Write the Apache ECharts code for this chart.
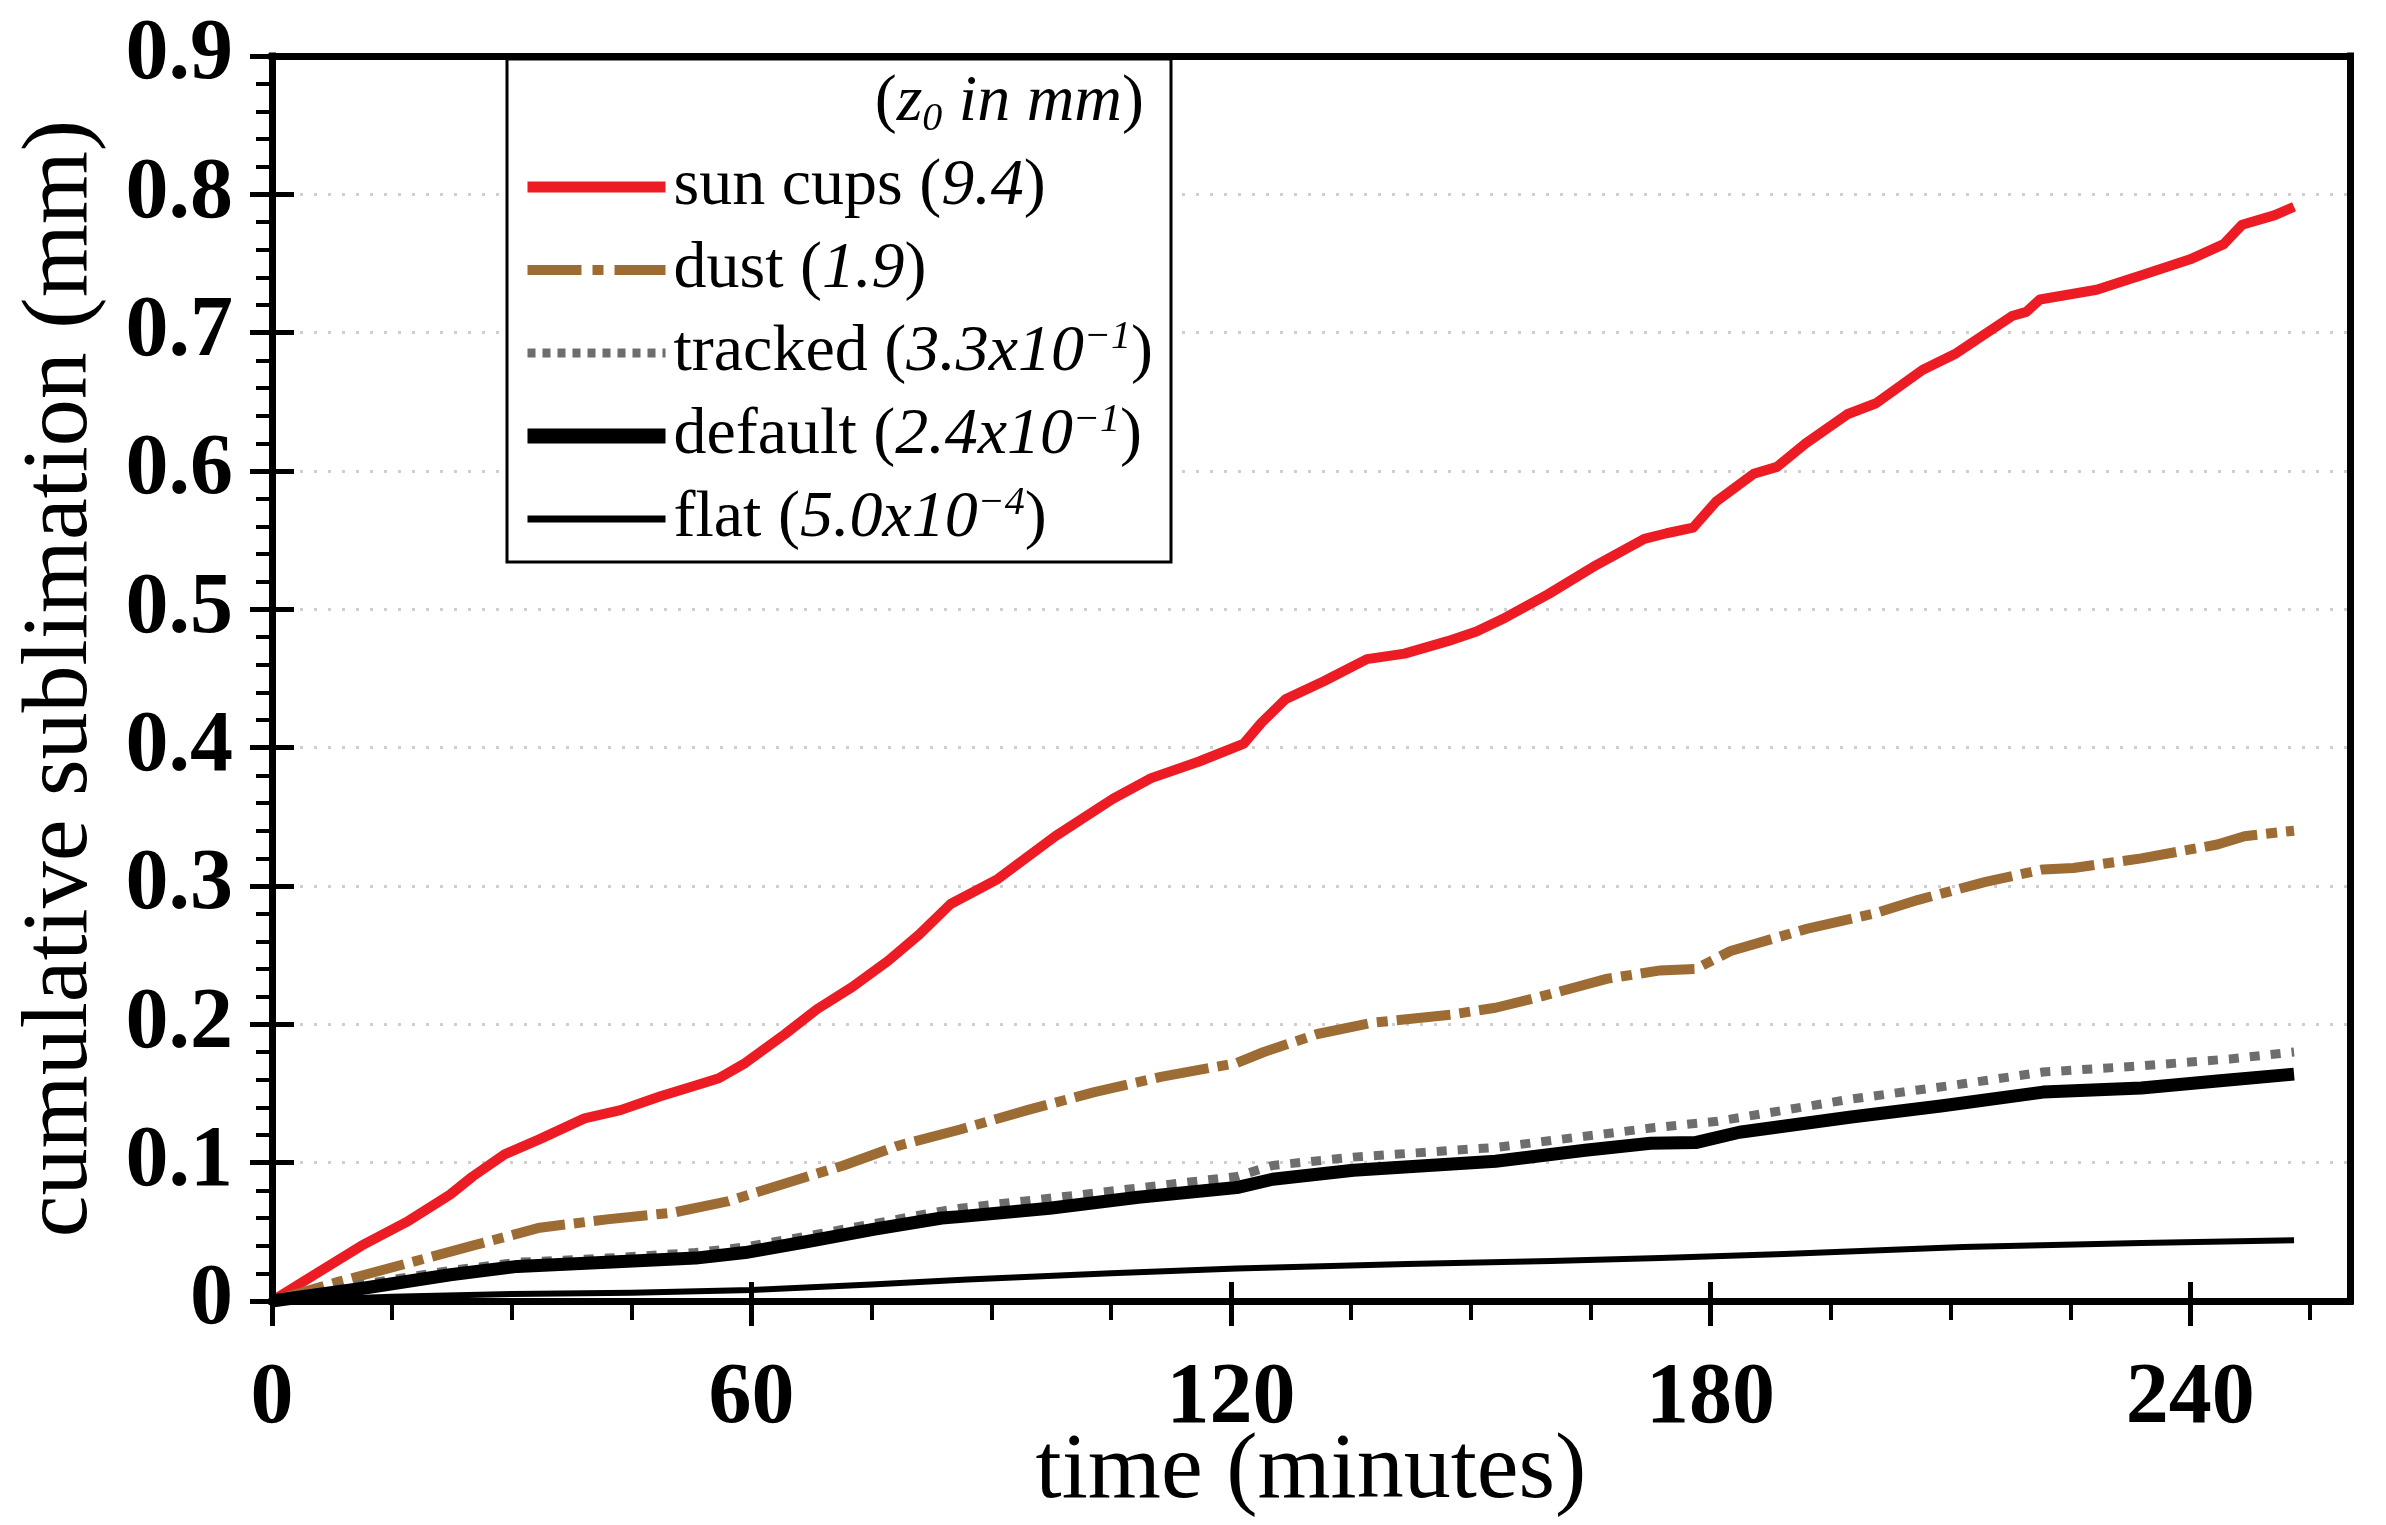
<!DOCTYPE html>
<html><head><meta charset="utf-8">
<script src="https://cdn.jsdelivr.net/npm/echarts@6/dist/echarts.min.js"></script>
<style>html,body{margin:0;padding:0;background:#fff}#c{width:2386px;height:1525px}</style>
</head><body><div id="c"></div>
<script>
// ---- data ----
const seriesNames = ['sun cups', 'dust', 'tracked', 'default', 'flat'];
const z0Values = ['9.4', '1.9', '3.3x10', '2.4x10', '5.0x10'];
const z0Exponents = ['', '', '\u22121', '\u22121', '\u22124'];
const xTickValues = [0, 60, 120, 180, 240];
const xMinorTickValues = [15, 30, 45, 75, 90, 105, 135, 150, 165, 195, 210, 225, 255];

const sunCups = [[0,0],[5.6,0.020],[11.2,0.040],[16.8,0.057],[22.3,0.077],[25.1,0.090],[29.1,0.106],[33.5,0.117],[39.1,0.132],[43.6,0.138],[48.6,0.148],[53.1,0.156],[55.9,0.161],[59.2,0.172],[64.2,0.193],[68.2,0.211],[72.6,0.227],[77.1,0.246],[81,0.265],[84.9,0.287],[90.8,0.305],[98,0.336],[105.2,0.363],[110,0.378],[116,0.390],[121.6,0.403],[123.8,0.418],[126.8,0.435],[131.6,0.448],[137,0.464],[141.7,0.468],[147.1,0.477],[150.7,0.484],[154.3,0.494],[159.7,0.511],[165.7,0.532],[171.7,0.551],[174.5,0.555],[177.8,0.559],[180.7,0.578],[185.4,0.598],[188.3,0.603],[191.9,0.620],[197.1,0.641],[200.7,0.649],[206.5,0.673],[210.7,0.685],[217.7,0.712],[219.5,0.715],[221.2,0.724],[228.3,0.731],[234.2,0.742],[240,0.753],[244.2,0.764],[246.5,0.778],[250.6,0.785],[253,0.791]];
const dust = [[0,0],[8.4,0.014],[16.8,0.027],[25.1,0.040],[33.5,0.053],[41.9,0.059],[50.3,0.064],[57,0.072],[64.2,0.085],[71.5,0.098],[78.2,0.112],[86.1,0.124],[94.5,0.138],[102.9,0.151],[111.2,0.162],[120.7,0.172],[124.1,0.180],[130.8,0.193],[137.5,0.201],[147.5,0.207],[153.1,0.212],[158.7,0.220],[167.1,0.233],[173.7,0.239],[178.1,0.240],[182.5,0.253],[192,0.269],[200.4,0.280],[206,0.290],[214.4,0.303],[221.6,0.312],[225.4,0.313],[233.9,0.320],[243.4,0.330],[246.8,0.336],[253,0.340]];
const tracked = [[0,0],[11.2,0.012],[22.3,0.022],[30.7,0.028],[41.9,0.031],[53,0.035],[59.2,0.039],[67,0.047],[75.4,0.056],[83.8,0.065],[86.1,0.067],[102.9,0.078],[120.7,0.090],[125.2,0.098],[135.3,0.104],[153.1,0.111],[172.5,0.125],[180.9,0.130],[197.6,0.146],[211.6,0.157],[221.6,0.1655],[233.9,0.170],[245,0.175],[253,0.180]];
const defaultZ0 = [[0,0],[11.2,0.009],[22.3,0.019],[30.7,0.025],[41.9,0.028],[53,0.031],[59.2,0.035],[67,0.043],[75.4,0.052],[83.8,0.060],[86.1,0.061],[97.3,0.067],[108.4,0.075],[120.7,0.082],[125.2,0.088],[135.3,0.0945],[153.1,0.101],[164.3,0.109],[172.5,0.114],[178.1,0.1145],[183.6,0.122],[197.6,0.133],[208.8,0.141],[221.6,0.151],[233.9,0.154],[243.4,0.159],[253,0.164]];
const flat = [[0,0],[15,0.003],[30,0.005],[45,0.006],[60,0.008],[75,0.012],[87,0.0155],[105,0.020],[120.7,0.0235],[142,0.0268],[160,0.029],[173.7,0.031],[189.2,0.034],[211.6,0.039],[233.9,0.042],[253,0.044]];

// ---- styles ----
const SERIF = 'Liberation Serif';
const seriesData = [sunCups, dust, tracked, defaultZ0, flat];
const seriesStyles = [
  {color:'#ed1c24', width:10, type:'solid'},
  {color:'#9d6b34', width:10, type:[54,9,11,9]},
  {color:'#6d6d6d', width:9, type:[10,11]},
  {color:'#000000', width:13, type:'solid'},
  {color:'#000000', width:6, type:'solid'}
];
const legendStyles = [
  {width:11},
  {width:10, type:[54,11,11,11]},
  {width:9, type:[8,7]},
  {width:15},
  {width:7}
];

const chart = echarts.init(document.getElementById('c'), null, {renderer:'canvas'});

const series = seriesNames.map((name, i) => ({
  name: name,
  type: 'line',
  xAxisIndex: 0,
  yAxisIndex: 0,
  data: seriesData[i],
  symbol: 'none',
  showSymbol: false,
  smooth: false,
  z: 3,
  itemStyle: {color: seriesStyles[i].color},
  lineStyle: {color: seriesStyles[i].color, width: seriesStyles[i].width, type: seriesStyles[i].type, cap: 'butt', join: 'round'}
}));

function frameLine() {
  return {show: true, onZero: false, lineStyle: {color: '#000', width: 7, cap: 'square'}};
}
const noLine = {show: false, onZero: false};

const option = {
  animation: false,
  backgroundColor: '#ffffff',
  grid: {left: 272, right: 36, top: 56, bottom: 224, show: false, containLabel: false, outerBoundsMode: 'none'},
  xAxis: [
    {
      type: 'value', position: 'bottom', min: 0, max: 260, z: 4,
      axisLine: frameLine(),
      axisTick: {show: true, inside: false, length: 25, customValues: xTickValues, lineStyle: {color: '#000', width: 5}},
      axisLabel: {show: true, customValues: xTickValues, margin: 56, color: '#000', fontFamily: SERIF, fontWeight: 'bold', fontSize: 86},
      splitLine: {show: false},
      name: 'time (minutes)', nameLocation: 'middle', nameGap: 124, nameMoveOverlap: false,
      nameTextStyle: {color: '#000', fontFamily: SERIF, fontSize: 94}
    },
    {
      type: 'value', position: 'bottom', min: 0, max: 260, z: 4,
      axisLine: noLine,
      axisTick: {show: true, inside: true, length: 19, customValues: xTickValues, lineStyle: {color: '#000', width: 5}},
      axisLabel: {show: false}, splitLine: {show: false}
    },
    {
      type: 'value', position: 'bottom', min: 0, max: 260, z: 4,
      axisLine: noLine,
      axisTick: {show: true, inside: false, length: 19, customValues: xMinorTickValues, lineStyle: {color: '#000', width: 4}},
      axisLabel: {show: false}, splitLine: {show: false}
    },
    {
      type: 'value', position: 'top', min: 0, max: 260, z: 4,
      axisLine: frameLine(),
      axisTick: {show: false}, axisLabel: {show: false}, splitLine: {show: false}
    }
  ],
  yAxis: [
    {
      type: 'value', position: 'left', min: 0, max: 0.9, interval: 0.1, z: 4,
      axisLine: frameLine(),
      axisTick: {show: true, inside: false, length: 22, lineStyle: {color: '#000', width: 5}},
      minorTick: {show: true, splitNumber: 5, length: 16, lineStyle: {color: '#000', width: 4}},
      axisLabel: {show: true, margin: 39, color: '#000', fontFamily: SERIF, fontWeight: 'bold', fontSize: 86,
        formatter: v => (Math.abs(v) < 1e-9 ? '0' : v.toFixed(1))},
      splitLine: {show: false},
      name: 'cumulative sublimation (mm)', nameLocation: 'middle', nameGap: 164, nameRotate: 90, nameMoveOverlap: false,
      nameTextStyle: {color: '#000', fontFamily: SERIF, fontSize: 94}
    },
    {
      type: 'value', position: 'left', min: 0, max: 0.9, interval: 0.1, z: 4,
      axisLine: noLine,
      axisTick: {show: true, inside: true, length: 22, lineStyle: {color: '#000', width: 5}},
      axisLabel: {show: false}, splitLine: {show: false}
    },
    {
      type: 'value', position: 'right', min: 0, max: 0.9, interval: 0.1, z: 4,
      axisLine: frameLine(),
      axisTick: {show: false}, axisLabel: {show: false}, splitLine: {show: false}
    },
    {
      // dotted horizontal grid lines, drawn beneath everything
      type: 'value', position: 'left', min: 0, max: 0.9, interval: 0.1, z: 0,
      axisLine: noLine, axisTick: {show: false}, axisLabel: {show: false},
      splitLine: {show: true, lineStyle: {color: '#cfcfcf', width: 3, type: [3, 11]}}
    }
  ],
  legend: {
    show: true, orient: 'vertical', left: 520, top: 151, padding: 0,
    itemWidth: 138, itemHeight: 70, itemGap: 11, selectedMode: false,
    itemStyle: {opacity: 0},
    data: seriesNames.map((n, i) => ({name: n, lineStyle: legendStyles[i], itemStyle: {opacity: 0}})),
    formatter: function (name) {
      const i = seriesNames.indexOf(name);
      let s = '{n|' + name + ' (}{i|' + z0Values[i] + '}';
      if (z0Exponents[i]) s += '{s|' + z0Exponents[i] + '}';
      return s + '{n|)}';
    },
    textStyle: {
      color: '#000', fontFamily: SERIF, fontSize: 66, lineHeight: 72, padding: [0, 0, 0, 3],
      rich: {
        n: {fontFamily: SERIF, fontSize: 66, lineHeight: 72, color: '#000'},
        i: {fontFamily: SERIF, fontSize: 66, lineHeight: 72, fontStyle: 'italic', color: '#000'},
        s: {fontFamily: SERIF, fontSize: 40, lineHeight: 40, fontStyle: 'italic', color: '#000', verticalAlign: 'top'}
      }
    },
    z: 5
  },
  graphic: [
    {type: 'rect', z: 1, silent: true, shape: {x: 507, y: 59, width: 664, height: 503},
     style: {fill: '#ffffff', stroke: '#000000', lineWidth: 3}},
    {type: 'text', z: 6, silent: true, x: 1144, y: 103,
     style: {
       text: '{n|(}{i|z}{b|0}{i| in mm}{n|)}',
       align: 'right', verticalAlign: 'middle', textAlign: 'right', textVerticalAlign: 'middle',
       fill: '#000',
       rich: {
         n: {fontFamily: SERIF, fontSize: 66, lineHeight: 72, fill: '#000', color: '#000'},
         i: {fontFamily: SERIF, fontSize: 66, lineHeight: 72, fontStyle: 'italic', fill: '#000', color: '#000'},
         b: {fontFamily: SERIF, fontSize: 40, lineHeight: 40, fontStyle: 'italic', fill: '#000', color: '#000', verticalAlign: 'bottom'}
       }
     }}
  ],
  series: series
};
chart.setOption(option);
</script>
</body></html>
